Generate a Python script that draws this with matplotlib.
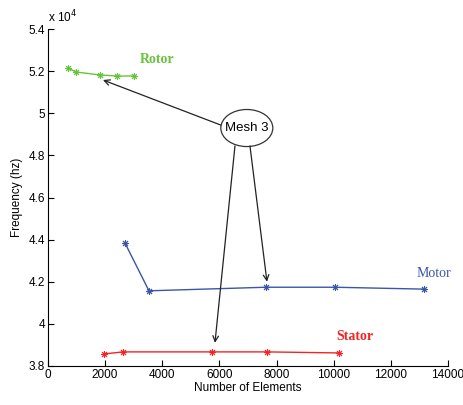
import numpy as np
import matplotlib.pyplot as plt
from matplotlib.patches import Ellipse

# mesh sizes (number of elements) and natural frequency (hz)
rotor_n = [700, 980, 1820, 2415, 3010]
rotor_f = [52150, 51960, 51820, 51770, 51770]

motor_n = [2695, 3535, 7630, 10045, 13160]
motor_f = [43840, 41570, 41740, 41740, 41650]

stator_n = [1960, 2625, 5740, 7665, 10185]
stator_f = [38570, 38670, 38670, 38670, 38620]

green = '#66c43c'
blue = '#3b55a8'
red = '#f22424'
star = (8, 2, 0)

fig = plt.figure(figsize=(4.64, 4.05), dpi=100)
ax = fig.add_axes([0.1034, 0.0963, 0.862, 0.832])

scale = 1e4
ax.plot(rotor_n, np.array(rotor_f)/scale, color=green, lw=1, marker=star, ms=5, mew=0.7)
ax.plot(motor_n, np.array(motor_f)/scale, color=blue, lw=1, marker=star, ms=5, mew=0.7)
ax.plot(stator_n, np.array(stator_f)/scale, color=red, lw=1, marker=star, ms=5, mew=0.7)

ax.set_xlim(0, 14000)
ax.set_ylim(3.8, 5.4)
ax.set_xticks(np.arange(0, 14001, 2000))
ax.set_yticks(np.arange(3.8, 5.41, 0.2))
ax.yaxis.set_major_formatter(plt.FormatStrFormatter('%g'))
ax.spines['top'].set_visible(False)
ax.spines['right'].set_visible(False)
ax.tick_params(direction='in', length=4, labelsize=8.5, pad=2)
for lab in ax.get_xticklabels() + ax.get_yticklabels():
    lab.set_fontfamily('Liberation Sans')

ax.set_xlabel('Number of Elements', fontsize=8.5, family='Liberation Sans', labelpad=1)
ax.set_ylabel('Frequency (hz)', fontsize=8.5, family='Liberation Sans', labelpad=4)
ax.text(0, 5.42, 'x 10$^{4}$', fontsize=8.5, family='Liberation Sans', va='bottom')

# curve labels
ax.text(3220, 5.253, 'Rotor', color=green, fontsize=10, family='Liberation Serif',
        fontweight='bold', va='center')
ax.text(12915, 4.241, 'Motor', color=blue, fontsize=10, family='Liberation Serif', va='center')
ax.text(10080, 3.942, 'Stator', color=red, fontsize=10, family='Liberation Serif',
        fontweight='bold', va='center')

# Mesh 3 callout
ax.add_patch(Ellipse((6960, 4.93), 1820, 0.176, fill=False, ec='#333333', lw=0.9))
ax.text(6960, 4.93, 'Mesh 3', fontsize=9.5, family='Liberation Sans', ha='center', va='center')
arr = dict(arrowstyle='->', color='#222222', lw=0.9, shrinkA=0, shrinkB=0)
ax.annotate('', xy=(1925, 5.158), xytext=(6050, 4.944), arrowprops=arr)
ax.annotate('', xy=(7665, 4.20), xytext=(7070, 4.845), arrowprops=arr)
ax.annotate('', xy=(5845, 3.91), xytext=(6545, 4.845), arrowprops=arr)

fig.savefig('out.png', dpi=100)
